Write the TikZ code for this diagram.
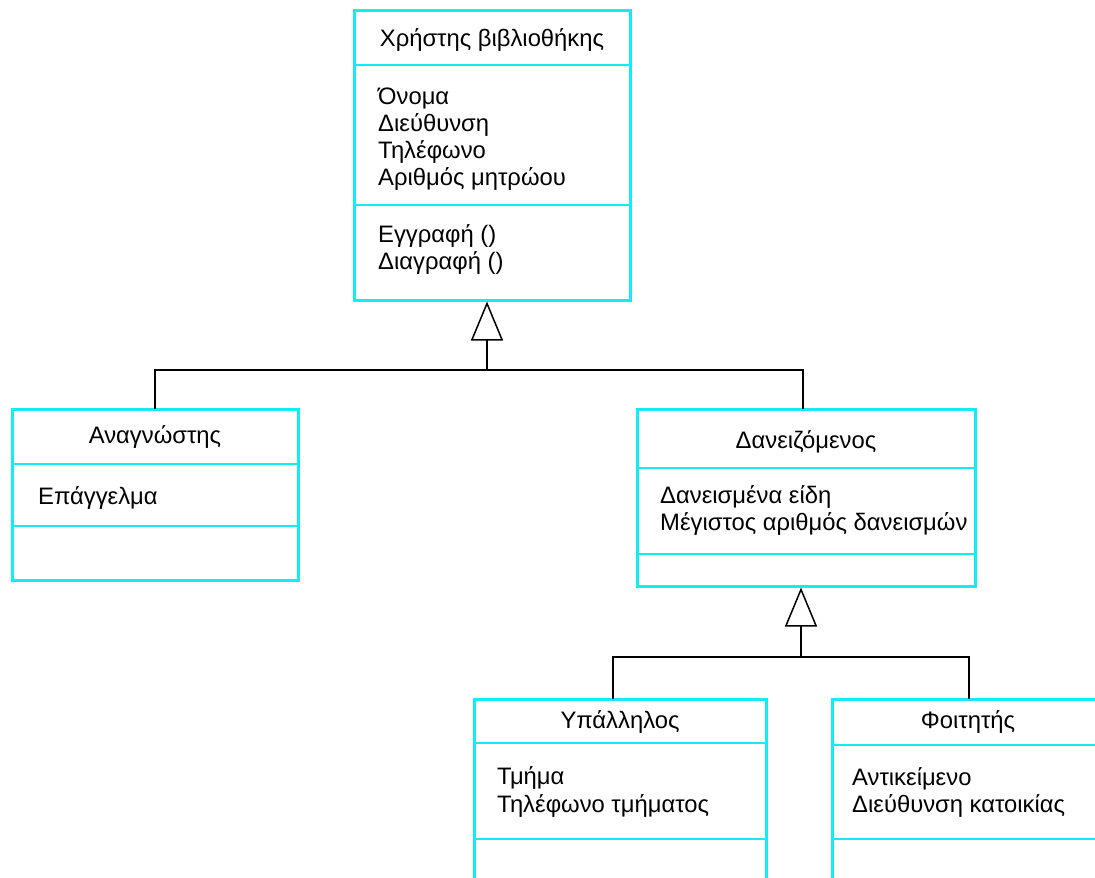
\documentclass[tikz,border=0pt]{standalone}
\usepackage{fontspec}
\setmainfont{Liberation Sans}
\usetikzlibrary{arrows.meta}
\definecolor{umlcyan}{RGB}{20,236,245}
\tikzset{
  classbox/.style={draw=umlcyan, line width=3pt, fill=none, inner sep=0pt, outer sep=0pt},
  divider/.style={draw=umlcyan, line width=1.8pt},
  txt/.style={anchor=base west, inner sep=0pt, font=\fontsize{23.8}{28}\selectfont},
  ttl/.style={anchor=base, inner sep=0pt, font=\fontsize{23.8}{28}\selectfont},
  conn/.style={draw=black, line width=1.5pt},
  inherit/.style={conn, -{Triangle[open, length=39pt, width=32pt, line width=1.5pt]}}
}
\begin{document}
\begin{tikzpicture}[x=1pt, y=-1pt]
\useasboundingbox (0,0) rectangle (1095,878);
\clip (0,0) rectangle (1095,878);
\fill[white] (0,0) rectangle (1095,878);

% Top class: Χρήστης βιβλιοθήκης
\node[classbox, minimum width=276pt, minimum height=290pt] (user) at (492,155) {};
\draw[divider] (user.west |- 0,65) -- (user.east |- 0,65);
\draw[divider] (user.west |- 0,205) -- (user.east |- 0,205);
\node[ttl] (userT) at (492,46) {Χρήστης βιβλιοθήκης};
\node[txt] (userA1) at (378,104) {Όνομα};
\node[txt] (userA2) at (378,131) {Διεύθυνση};
\node[txt] (userA3) at (378,158) {Τηλέφωνο};
\node[txt] (userA4) at (378,185) {Αριθμός μητρώου};
\node[txt] (userM1) at (378,242) {Εγγραφή ()};
\node[txt] (userM2) at (378,269) {Διαγραφή ()};

% Αναγνώστης
\node[classbox, minimum width=286pt, minimum height=171pt] (reader) at (155,494.5) {};
\draw[divider] (reader.west |- 0,464) -- (reader.east |- 0,464);
\draw[divider] (reader.west |- 0,526) -- (reader.east |- 0,526);
\node[ttl] (readerT) at (155,443) {Αναγνώστης};
\node[txt] (readerA1) at (38,504) {Επάγγελμα};

% Δανειζόμενος
\node[classbox, minimum width=338pt, minimum height=177pt] (borrower) at (806,497.5) {};
\draw[divider] (borrower.west |- 0,468) -- (borrower.east |- 0,468);
\draw[divider] (borrower.west |- 0,554) -- (borrower.east |- 0,554);
\node[ttl] (borrowerT) at (806,448) {Δανειζόμενος};
\node[txt] (borrowerA1) at (660,503) {Δανεισμένα είδη};
\node[txt] (borrowerA2) at (660,530) {Μέγιστος αριθμός δανεισμών};

% Υπάλληλος
\node[classbox, minimum width=292pt, minimum height=201pt] (employee) at (620,799.5) {};
\draw[divider] (employee.west |- 0,743) -- (employee.east |- 0,743);
\draw[divider] (employee.west |- 0,839) -- (employee.east |- 0,839);
\node[ttl] (employeeT) at (620,728) {Υπάλληλος};
\node[txt] (employeeA1) at (497,784) {Τμήμα};
\node[txt] (employeeA2) at (497,812) {Τηλέφωνο τμήματος};

% Φοιτητής
\node[classbox, minimum width=272pt, minimum height=201pt] (student) at (968,799.5) {};
\draw[divider] (student.west |- 0,745) -- (student.east |- 0,745);
\draw[divider] (student.west |- 0,839) -- (student.east |- 0,839);
\node[ttl] (studentT) at (968,728) {Φοιτητής};
\node[txt] (studentA1) at (852,785) {Αντικείμενο};
\node[txt] (studentA2) at (852,812) {Διεύθυνση κατοικίας};

% Inheritance 1
\coordinate (apex1) at (487,301.5);
\coordinate (join1) at (487,370);
\coordinate (readerTop) at (155,409);
\coordinate (borrowerTop) at (803,409);
\draw[conn] (readerTop) |- (join1) -| (borrowerTop);
\draw[inherit] (join1) -- (apex1);

% Inheritance 2
\coordinate (apex2) at (801,587.5);
\coordinate (join2) at (801,657);
\coordinate (employeeTop) at (613,699);
\coordinate (studentTop) at (969,699);
\draw[conn] (employeeTop) |- (join2) -| (studentTop);
\draw[inherit] (join2) -- (apex2);
\end{tikzpicture}
\end{document}
